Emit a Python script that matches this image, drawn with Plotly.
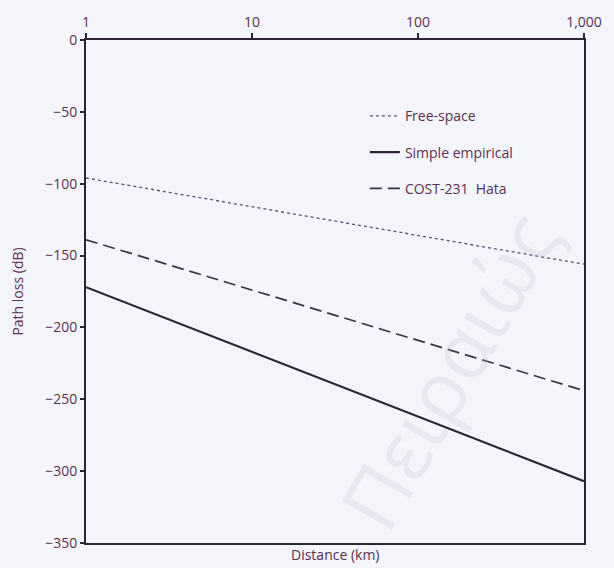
import plotly.graph_objects as go

distance_km = [1, 10, 100, 1000]
free_space = [-96, -116, -136, -156]
simple_empirical = [-172, -217, -262, -307]
cost231_hata = [-139, -174, -209, -244]

x_tick_vals = [1, 10, 100, 1000]
x_tick_text = ["1", "10", "100", "1,000"]
y_tick_vals = [0, -50, -100, -150, -200, -250, -300, -350]
y_tick_text = ["0", "−50", "−100", "−150", "−200", "−250", "−300", "−350"]

line_col = "#2a2433"
text_col = "#5b2f4f"
font_fam = "Open Sans, Lato, sans-serif"

fig = go.Figure()
fig.add_trace(go.Scatter(x=distance_km, y=free_space, mode="lines", name="Free-space",
                         legendgroup="a",
                         line=dict(color="#5a5070", width=1.3, dash="dot")))
fig.add_trace(go.Scatter(x=distance_km, y=simple_empirical, mode="lines", name="Simple empirical",
                         legendgroup="b",
                         line=dict(color=line_col, width=2.2)))
fig.add_trace(go.Scatter(x=distance_km, y=cost231_hata, mode="lines", name="COST-231  Hata",
                         legendgroup="c",
                         line=dict(color="#3a3445", width=1.7, dash="12px,6px")))

fig.update_layout(
    width=614, height=568,
    margin=dict(l=86, r=27, t=40, b=25),
    paper_bgcolor="#f4f5fb", plot_bgcolor="#f4f5fb",
    font=dict(family=font_fam, color=text_col, size=14),
    showlegend=True,
    legend=dict(x=0.56, y=0.88, xanchor="left", yanchor="top", bgcolor="rgba(0,0,0,0)",
                font=dict(size=14, color=text_col), itemwidth=30, tracegroupgap=15),
    xaxis=dict(type="log", range=[0, 3], side="top", tickvals=x_tick_vals, ticktext=x_tick_text,
               showgrid=False, zeroline=False, showline=True, linecolor=line_col, linewidth=2,
               mirror=True, ticks="outside", ticklen=5, tickwidth=2, tickcolor=line_col,
               tickfont=dict(size=14, color=text_col)),
    yaxis=dict(range=[-350, 0], tickvals=y_tick_vals, ticktext=y_tick_text,
               showgrid=False, zeroline=False, showline=True, linecolor=line_col, linewidth=2,
               mirror=True, ticks="outside", ticklen=4, tickwidth=2, tickcolor=line_col,
               tickfont=dict(size=14, color=text_col),
               title=dict(text="Path loss (dB)", font=dict(size=14, color=text_col), standoff=18)),
)

fig.add_annotation(text="Distance (km)", xref="paper", yref="paper", x=0.5, y=0,
                   xanchor="center", yanchor="top", yshift=0, showarrow=False,
                   font=dict(size=14, color=text_col))
fig.add_annotation(text="Πειραιώς", xref="paper", yref="paper", x=0.727, y=0.344,
                   xanchor="center", yanchor="middle",
                   textangle=-60, showarrow=False,
                   font=dict(size=80, color="rgba(190,190,205,0.25)", family=font_fam))

fig.write_html("out.html")
